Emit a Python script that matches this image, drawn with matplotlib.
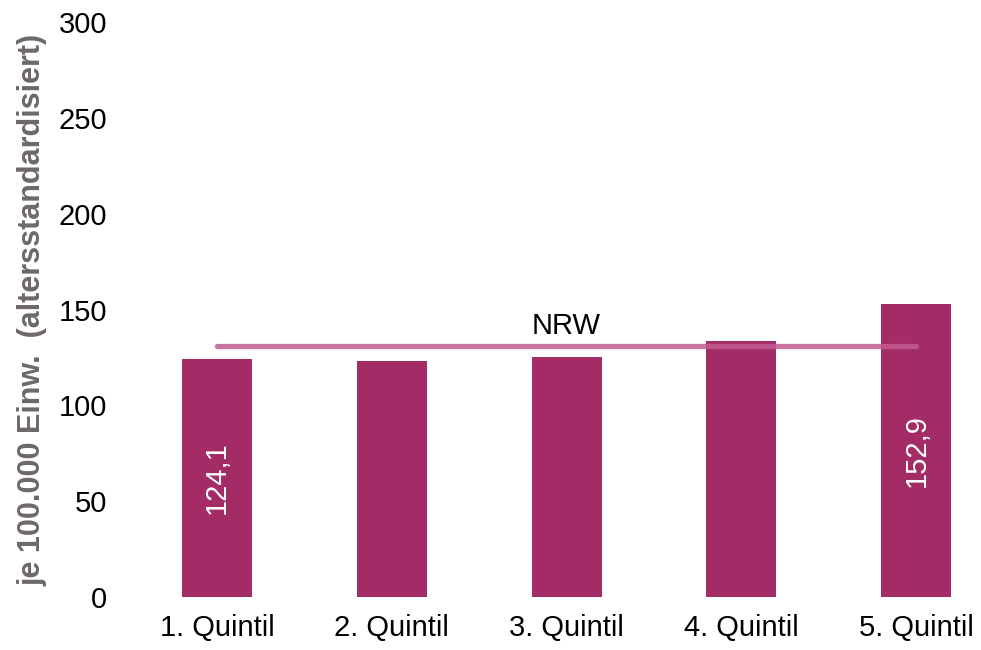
import matplotlib
matplotlib.use('Agg')
import matplotlib.pyplot as plt

categories = ['1. Quintil', '2. Quintil', '3. Quintil', '4. Quintil', '5. Quintil']
values = [124.1, 123.3, 125.1, 133.6, 152.9]
labelled = [0, 4]          # bars carrying a value label
nrw_value = 131.0
yticks = [0, 50, 100, 150, 200, 250, 300]

plt.rcParams['font.family'] = ['Liberation Sans', 'DejaVu Sans']

fig = plt.figure(figsize=(9.81, 6.5), dpi=100)
ax = fig.add_axes([0.132, 0.0815, 0.868, 0.8845])

x = list(range(len(categories)))
ax.bar(x, values, width=0.4, color='#a32c67', zorder=2)

# NRW reference line from first to last bar centre
ax.plot([x[0], x[-1]], [nrw_value, nrw_value], color='#c25a8f', alpha=0.85,
         lw=3.8, solid_capstyle='round', zorder=3)
ax.text((x[0] + x[-1]) / 2, nrw_value + 3, 'NRW', ha='center', va='bottom',
        fontsize=21, color='black')

for i in labelled:
    ax.text(x[i], values[i] / 2, f'{values[i]:.1f}'.replace('.', ','),
            rotation=90, ha='center', va='center', color='white', fontsize=21)

ax.set_xlim(-0.5, 4.37)
ax.set_ylim(0, 300)
ax.set_yticks(yticks)
ax.set_xticks(x)
ax.set_xticklabels(categories)
ax.tick_params(axis='both', length=0, labelsize=21, colors='black')
ax.tick_params(axis='y', pad=16)
ax.tick_params(axis='x', pad=12)
for s in ax.spines.values():
    s.set_visible(False)

ax.set_ylabel('je 100.000 Einw.  (altersstandardisiert)', fontsize=22,
              fontweight='bold', color='#6e686c', labelpad=8)

fig.savefig('out.png', dpi=100)
